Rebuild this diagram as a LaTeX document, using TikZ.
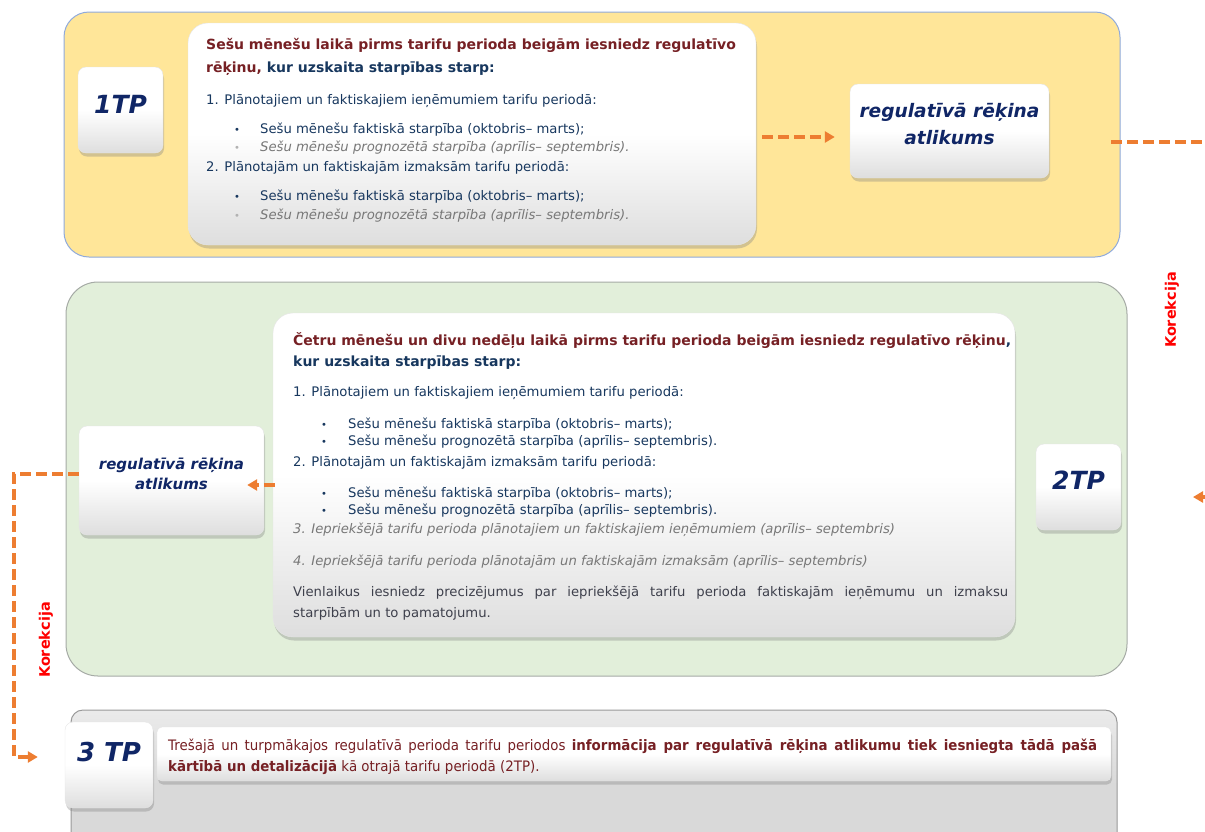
\documentclass[tikz,border=0pt]{standalone}
\usepackage{fontspec}
\setmainfont{DejaVu Sans}
\newfontfamily\barfont[FakeStretch=0.93]{DejaVu Sans}
\usetikzlibrary{arrows.meta,shadows}
\definecolor{cMaroon}{RGB}{118,32,36}
\definecolor{cNavy}{RGB}{23,55,94}
\definecolor{cTitle}{RGB}{16,38,102}
\definecolor{cOrange}{RGB}{237,125,49}
\definecolor{cGrayTxt}{RGB}{120,120,120}
\definecolor{cDark}{RGB}{62,64,76}
\definecolor{cYellow}{RGB}{255,230,153}
\definecolor{cYellowBd}{RGB}{143,170,220}
\definecolor{cGreen}{RGB}{226,239,218}
\definecolor{cGreenBd}{RGB}{165,170,165}
\definecolor{cPanelGray}{RGB}{217,217,217}
\newcommand\bodysz{\fontsize{13.2}{16}\selectfont}
\newcommand\hdsz{\fontsize{14}{17}\selectfont}
\newcommand\bulsz{\fontsize{10}{12}\selectfont}
\begin{document}
\begin{tikzpicture}[x=1pt,y=-1pt,
  panel/.style={line width=1pt},
  whitebox/.style={rounded corners=20pt, top color=white, bottom color=black!13, middle color=white,
    draw=black!10, drop shadow={shadow xshift=1pt, shadow yshift=-3.5pt, opacity=0.35}},
  smallbox/.style={whitebox, rounded corners=8pt},
  titletxt/.style={font=\fontsize{25}{28}\selectfont\bfseries\itshape, text=cTitle, inner sep=0pt},
  regtxt/.style={font=\bfseries\itshape, text=cTitle, align=center, inner sep=0pt},
  ln/.style={anchor=base west, inner sep=0pt},
  dashline/.style={draw=cOrange, line width=3.5pt, dash pattern=on 11pt off 5pt},
  dasharrow/.style={dashline, -{Triangle[length=10pt,width=11pt]}},
  kortxt/.style={rotate=90, font=\fontsize{14.5}{17}\selectfont\bfseries, text=red, inner sep=0pt}
]
\useasboundingbox (0,0) rectangle (1205,831);
% panels
\node[panel, fill=cYellow, draw=cYellowBd, rounded corners=25pt, minimum width=1056pt, minimum height=245pt] (p1) at (592,134.5) {};
\node[panel, fill=cGreen, draw=cGreenBd, rounded corners=32pt, minimum width=1061pt, minimum height=394pt] (p2) at (596.5,479) {};
\node[panel, top color=black!8, bottom color=cPanelGray, middle color=cPanelGray, draw=black!40, rounded corners=12pt, minimum width=1046pt, minimum height=150pt] (p3) at (594,785) {};
% row 1
\node[smallbox, minimum width=85pt, minimum height=86pt] (tp1) at (120.5,110) {};
\node[titletxt] (tp1t) at (120.5,104) {1TP};
\node[whitebox, minimum width=568pt, minimum height=222pt] (txt1) at (472,134) {};
\node[smallbox, minimum width=199pt, minimum height=94pt] (reg1) at (949.5,131) {};
\node[regtxt, font=\fontsize{18.6}{27}\selectfont\bfseries\itshape] (reg1t) at (949.5,124.5) {regulatīvā rēķina\\atlikums};

\node[ln,font=\hdsz\bfseries,text=cMaroon] (h1a) at (206,49) {Sešu mēnešu laikā pirms tarifu perioda beigām iesniedz regulatīvo};
\node[ln,font=\hdsz\bfseries] (h1b) at (206,72) {\textcolor{cMaroon}{rēķinu,} \textcolor{cNavy}{kur uzskaita starpības starp:}};
\node[ln,font=\bodysz,text=cNavy] (a1) at (206,104) {1. Plānotajiem un faktiskajiem ieņēmumiem tarifu periodā:};
\node[ln,font=\bulsz,text=cNavy] (a1u1) at (234,133) {•};
\node[ln,font=\bodysz,text=cNavy] (a1b1) at (260,133) {Sešu mēnešu faktiskā starpība (oktobris– marts);};
\node[ln,font=\bulsz,text=black!30] (a1u2) at (234,151) {•};
\node[ln,font=\bodysz\itshape,text=cGrayTxt] (a1b2) at (260,151) {Sešu mēnešu prognozētā starpība (aprīlis– septembris).};
\node[ln,font=\bodysz,text=cNavy] (a2) at (206,171) {2. Plānotajām un faktiskajām izmaksām tarifu periodā:};
\node[ln,font=\bulsz,text=cNavy] (a2u1) at (234,200) {•};
\node[ln,font=\bodysz,text=cNavy] (a2b1) at (260,200) {Sešu mēnešu faktiskā starpība (oktobris– marts);};
\node[ln,font=\bulsz,text=black!30] (a2u2) at (234,219) {•};
\node[ln,font=\bodysz\itshape,text=cGrayTxt] (a2b2) at (260,219) {Sešu mēnešu prognozētā starpība (aprīlis– septembris).};

% row 2
\node[smallbox, minimum width=185pt, minimum height=109pt] (reg2) at (171.5,480.5) {};
\node[regtxt, font=\fontsize{15}{20}\selectfont\bfseries\itshape] (reg2t) at (171.5,474) {regulatīvā rēķina\\atlikums};
\node[whitebox, minimum width=742pt, minimum height=324pt] (txt2) at (644,475) {};
\node[smallbox, minimum width=85pt, minimum height=86pt] (tp2) at (1078.5,487) {};
\node[titletxt] (tp2t) at (1078.5,480) {2TP};

\node[ln,font=\hdsz\bfseries] (h2a) at (293,345) {\textcolor{cMaroon}{Četru mēnešu un divu nedēļu laikā pirms tarifu perioda beigām iesniedz regulatīvo rēķinu}\textcolor{cNavy}{,}};
\node[ln,font=\hdsz\bfseries,text=cNavy] (h2b) at (293,366) {kur uzskaita starpības starp:};
\node[ln,font=\bodysz,text=cNavy] (c1) at (293,396) {1. Plānotajiem un faktiskajiem ieņēmumiem tarifu periodā:};
\node[ln,font=\bulsz,text=cNavy] (c1u1) at (321,428) {•};
\node[ln,font=\bodysz,text=cNavy] (c1b1) at (348,428) {Sešu mēnešu faktiskā starpība (oktobris– marts);};
\node[ln,font=\bulsz,text=cNavy] (c1u2) at (321,445) {•};
\node[ln,font=\bodysz,text=cNavy] (c1b2) at (348,445) {Sešu mēnešu prognozētā starpība (aprīlis– septembris).};
\node[ln,font=\bodysz,text=cNavy] (c2) at (293,466) {2. Plānotajām un faktiskajām izmaksām tarifu periodā:};
\node[ln,font=\bulsz,text=cNavy] (c2u1) at (321,497) {•};
\node[ln,font=\bodysz,text=cNavy] (c2b1) at (348,497) {Sešu mēnešu faktiskā starpība (oktobris– marts);};
\node[ln,font=\bulsz,text=cNavy] (c2u2) at (321,514) {•};
\node[ln,font=\bodysz,text=cNavy] (c2b2) at (348,514) {Sešu mēnešu prognozētā starpība (aprīlis– septembris).};
\node[ln,font=\bodysz\itshape,text=cGrayTxt] (c3) at (293,533) {3. Iepriekšējā tarifu perioda plānotajiem un faktiskajiem ieņēmumiem (aprīlis– septembris)};
\node[ln,font=\bodysz\itshape,text=cGrayTxt] (c4) at (293,565) {4. Iepriekšējā tarifu perioda plānotajām un faktiskajām izmaksām (aprīlis– septembris)};
\node[ln,font=\bodysz,text=cDark] (c5a) at (293,596) {\makebox[715pt][s]{Vienlaikus iesniedz precizējumus par iepriekšējā tarifu perioda faktiskajām ieņēmumu un izmaksu}};
\node[ln,font=\bodysz,text=cDark] (c5b) at (293,617) {starpībām un to pamatojumu.};

% row 3
\node[smallbox, minimum width=88pt, minimum height=86pt] (tp3) at (109,765) {};
\node[titletxt, font=\fontsize{26}{29}\selectfont\bfseries\itshape] (tp3t) at (109,752) {3 TP};
\node[whitebox, rounded corners=5pt, minimum width=954pt, minimum height=54pt] (bar) at (634,754) {};
\node[ln,font=\barfont\fontsize{14.4}{17}\selectfont,text=cMaroon] (d1) at (168,750) {\makebox[929pt][s]{Trešajā un turpmākajos regulatīvā perioda tarifu periodos \textbf{informācija par regulatīvā rēķina atlikumu tiek iesniegta tādā pašā}}};
\node[ln,font=\barfont\fontsize{14.4}{17}\selectfont,text=cMaroon] (d2) at (168,771) {\textbf{kārtībā un detalizācijā} kā otrajā tarifu periodā (2TP).};

% connectors
\draw[dasharrow] ([xshift=6pt,yshift=-3pt]txt1.east) -- ([xshift=-15pt,yshift=-3pt]txt1.east -| reg1.west);
\coordinate (r1out) at (1111,142);
\coordinate (edgeR) at (1212,142);
\draw[dashline] (r1out) -- (edgeR);
\coordinate (inR) at (1226,497);
\coordinate (inRend) at (1193,497);
\draw[dasharrow] (inR) -- (inRend);
\draw[dasharrow] ([xshift=2pt,yshift=-4.5pt]txt2.west |- reg2.center) -- ([xshift=-17pt,yshift=-4.5pt]reg2.east);
\coordinate (lc) at (14,757);
\draw[dasharrow] ([yshift=6.5pt]reg2.west) -| (lc) -- ([xshift=-27pt]tp3.west |- lc);

\node[kortxt] (k1) at (1172,310) {Korekcija};
\node[kortxt] (k2) at (46,640) {Korekcija};
\end{tikzpicture}
\end{document}
